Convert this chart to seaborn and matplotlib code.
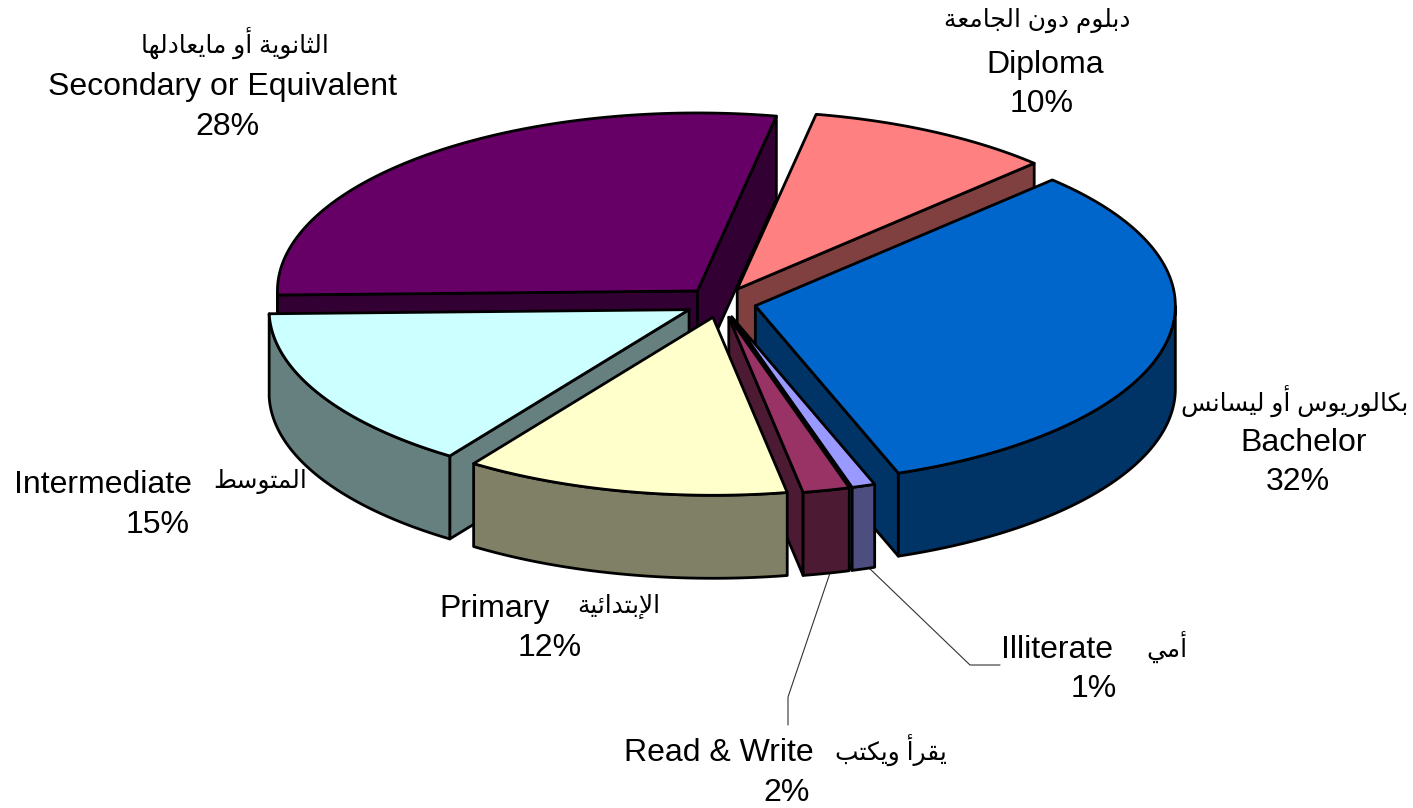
import numpy as np
import matplotlib
matplotlib.use('Agg')
import matplotlib.pyplot as plt
import seaborn as sns

# data, clockwise from the right hand edge of Bachelor
labels_en = ['Bachelor', 'Illiterate', 'Read & Write', 'Primary', 'Intermediate', 'Secondary or Equivalent', 'Diploma']
labels_ar = ['بكالوريوس أو ليسانس', 'أمي', 'يقرأ ويكتب', 'الإبتدائية', 'المتوسط', 'الثانوية أو مايعادلها', 'دبلوم دون الجامعة']
values = [32, 0.9, 1.8, 12.49, 15, 28.4, 9.5]
colors = ['#0066CC', '#9999FF', '#993366', '#FFFFCC', '#CCFFFF', '#660066', '#FF8080']

# back to front
draw_order = [5, 6, 0, 1, 2, 4, 3]

# label layout in image pixels
en_pos = [(1304, 443), (1057, 650), (719, 753), (495, 609), (103, 485), (223, 87), (1045, 65)]
ar_pos = [(1295, 401), (1167, 647), (891, 750), (619, 606), (260, 481), (235, 43), (1037, 20)]
pct_pos = [(1298, 482), (1094, 689), (787, 793), (550, 648), (158, 525), (227, 127), (1042, 104)]

# pie geometry in image pixels
cx, cy = 720.5, 302.5
rx, ry = 420, 178
depth = 83
explode = 0.085
start_angle = 45

# contextual forms: isolated, final, initial, medial
forms = {
    'ا': (0xFE8D, 0xFE8E), 'أ': (0xFE83, 0xFE84), 'إ': (0xFE87, 0xFE88),
    'د': (0xFEA9, 0xFEAA), 'ر': (0xFEAD, 0xFEAE), 'و': (0xFEED, 0xFEEE), 'ة': (0xFE93, 0xFE94),
    'ب': (0xFE8F, 0xFE90, 0xFE91, 0xFE92), 'ت': (0xFE95, 0xFE96, 0xFE97, 0xFE98),
    'ث': (0xFE99, 0xFE9A, 0xFE9B, 0xFE9C), 'ج': (0xFE9D, 0xFE9E, 0xFE9F, 0xFEA0),
    'س': (0xFEB1, 0xFEB2, 0xFEB3, 0xFEB4), 'ط': (0xFEC1, 0xFEC2, 0xFEC3, 0xFEC4),
    'ع': (0xFEC9, 0xFECA, 0xFECB, 0xFECC), 'ق': (0xFED5, 0xFED6, 0xFED7, 0xFED8),
    'ك': (0xFED9, 0xFEDA, 0xFEDB, 0xFEDC), 'ل': (0xFEDD, 0xFEDE, 0xFEDF, 0xFEE0),
    'م': (0xFEE1, 0xFEE2, 0xFEE3, 0xFEE4), 'ن': (0xFEE5, 0xFEE6, 0xFEE7, 0xFEE8),
    'ه': (0xFEE9, 0xFEEA, 0xFEEB, 0xFEEC), 'ي': (0xFEF1, 0xFEF2, 0xFEF3, 0xFEF4),
    'ئ': (0xFE89, 0xFE8A, 0xFE8B, 0xFE8C),
}
lam_alef = {'ا': (0xFEFB, 0xFEFC), 'أ': (0xFEF7, 0xFEF8), 'إ': (0xFEF9, 0xFEFA)}


def shape(text):
    # matplotlib has no arabic shaping, so pick the glyph forms and reverse
    out = []
    i = 0
    prev_joins = False
    while i < len(text):
        ch = text[i]
        if ch not in forms:
            out.append(ch)
            prev_joins = False
            i += 1
            continue
        if ch == 'ل' and i + 1 < len(text) and text[i + 1] in lam_alef:
            out.append(chr(lam_alef[text[i + 1]][1 if prev_joins else 0]))
            prev_joins = False
            i += 2
            continue
        f = forms[ch]
        next_ok = i + 1 < len(text) and text[i + 1] in forms
        if len(f) == 2:
            out.append(chr(f[1] if prev_joins else f[0]))
            prev_joins = False
        else:
            if prev_joins and next_ok:
                out.append(chr(f[3]))
            elif prev_joins:
                out.append(chr(f[1]))
            elif next_ok:
                out.append(chr(f[2]))
            else:
                out.append(chr(f[0]))
            prev_joins = next_ok
        i += 1
    return ''.join(reversed(out))


sns.set_theme(style='white')
plt.rcParams['font.family'] = ['Liberation Sans', 'DejaVu Sans']

fig, ax = plt.subplots(figsize=(14.13, 8.08), dpi=100)
ax.set_position([0, 0, 1, 1])
ax.set_xlim(0, 1413)
ax.set_ylim(808, 0)
ax.axis('off')

# leader lines
ax.plot([868, 970, 1000], [567, 665, 665], color='#333333', lw=0.8, zorder=1)
ax.plot([830, 788, 788], [573, 697, 725], color='#333333', lw=0.8, zorder=1)

# slice angles from the values
fractions = np.array(values) / sum(values)
ends = start_angle - np.cumsum(fractions) * 360
starts = np.r_[start_angle, ends[:-1]]

edge = dict(edgecolor='black', linewidth=2.0, joinstyle='round')
palette = sns.color_palette(colors)

for idx in draw_order:
    t1, t2 = np.radians(starts[idx]), np.radians(ends[idx])
    mid = (t1 + t2) / 2
    ax0 = cx + explode * rx * np.cos(mid)
    ay0 = cy - explode * ry * np.sin(mid)
    t = np.linspace(t1, t2, 200)
    arc_x = ax0 + rx * np.cos(t)
    arc_y = ay0 - ry * np.sin(t)
    top = palette[idx]
    side = tuple(c / 2 for c in top)

    # only the cut walls that face the viewer, then the front rim, then the top
    if np.cos(t1) < 0:
        px, py = arc_x[0], arc_y[0]
        ax.fill([ax0, px, px, ax0], [ay0, py, py + depth, ay0 + depth], facecolor=side, **edge)
    if np.cos(t2) > 0:
        px, py = arc_x[-1], arc_y[-1]
        ax.fill([ax0, px, px, ax0], [ay0, py, py + depth, ay0 + depth], facecolor=side, **edge)
    front = np.sin(t) <= 0
    if front.any():
        fx, fy = arc_x[front], arc_y[front]
        ax.fill(np.r_[fx, fx[::-1]], np.r_[fy, fy[::-1] + depth], facecolor=side, **edge)
    ax.fill(np.r_[ax0, arc_x], np.r_[ay0, arc_y], facecolor=top, **edge)

# labels
for i in range(len(values)):
    ax.text(*en_pos[i], labels_en[i], fontsize=23, color='black', ha='center', va='center')
    ax.text(*ar_pos[i], shape(labels_ar[i]), fontsize=17.9, color='black', ha='center', va='center')
    ax.text(*pct_pos[i], f'{max(round(values[i]), 1)}%', fontsize=23, color='black', ha='center', va='center')

fig.savefig('out.png', dpi=100, facecolor='white')
